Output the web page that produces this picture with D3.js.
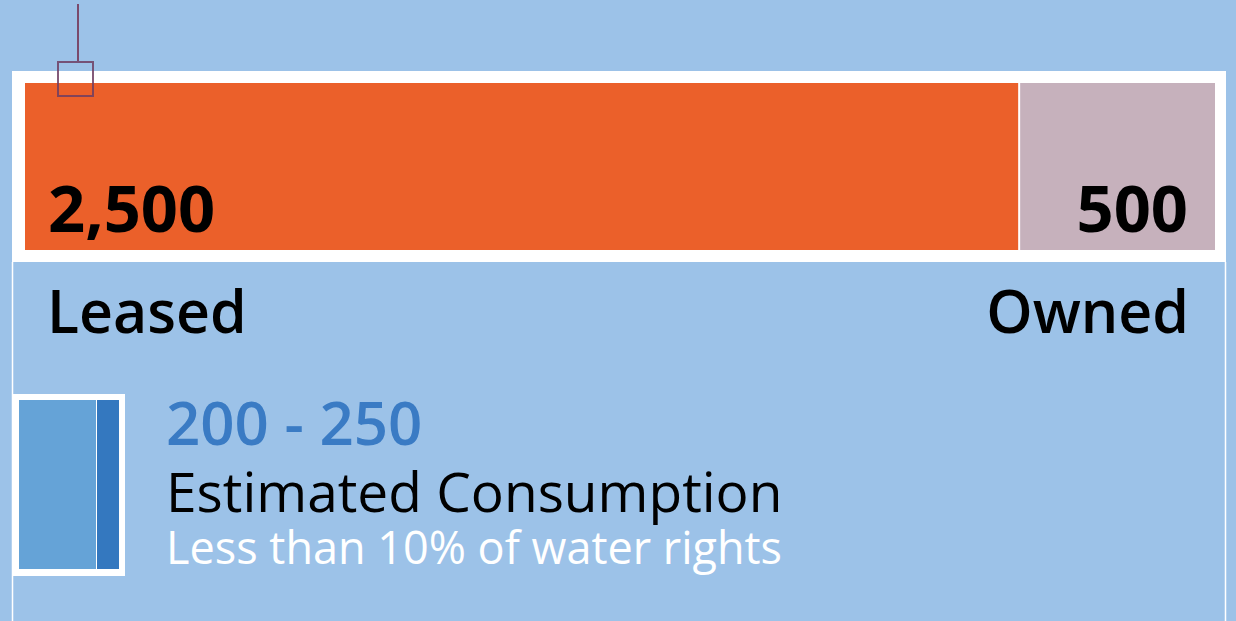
<!DOCTYPE html>
<html>
<head>
<meta charset="utf-8">
<script src="https://cdn.jsdelivr.net/npm/d3@7"></script>
<style>
  html, body { margin: 0; padding: 0; background: #9cc2e8; }
  svg { display: block; font-family: "Open Sans", "Noto Sans", sans-serif; }
</style>
</head>
<body>
<svg id="chart"></svg>
<script>
var categories = ["Leased", "Owned"];
var values = [2500, 500];
var valueLabels = ["2,500", "500"];
var rangeValues = [200, 250];
var rangeLabel = "200 - 250";
var rangeTitle = "Estimated Consumption";
var rangeNote = "Less than 10% of water rights";
var marker = 0; // marker sits at the very start of the bar

var width = 1236, height = 621;
var colors = ["#eb602a", "#c6b1bc"];

var svg = d3.select("#chart")
   .attr("width", width)
   .attr("height", height);

svg.append("rect")
   .attr("width", width).attr("height", height)
   .attr("fill", "#9cc2e8");

// white frame round the bar, with thin side rules going down
svg.append("rect")
   .attr("x", 12).attr("y", 71)
   .attr("width", 1214).attr("height", 191)
   .attr("fill", "#ffffff");
svg.selectAll("line.rule")
   .data([12.5, 1225.5])
   .enter().append("line")
   .attr("class", "rule")
   .attr("x1", d => d).attr("x2", d => d)
   .attr("y1", 262).attr("y2", height)
   .attr("stroke", "#ffffff").attr("stroke-width", 1.5);

var x = d3.scaleLinear()
   .domain([0, d3.sum(values)])
   .range([25, 1218]);

var stack = values.map(function(v, i) {
    var start = d3.sum(values.slice(0, i));
    return {value: v, start: start, end: start + v, i: i};
});

svg.selectAll("rect.seg")
   .data(stack)
   .enter().append("rect")
   .attr("class", "seg")
   .attr("x", d => x(d.start) + (d.i ? 1 : 0))
   .attr("y", 83)
   .attr("width", d => x(d.end) - x(d.start) - (d.i ? 4 : 1))
   .attr("height", 167)
   .attr("fill", (d, i) => colors[i]);

// value labels inside the bar
svg.selectAll("text.val")
   .data(stack)
   .enter().append("text")
   .attr("class", "val")
   .attr("x", d => d.i ? 1188 : 48)
   .attr("y", 232)
   .attr("text-anchor", d => d.i ? "end" : "start")
   .attr("font-size", 65)
   .attr("font-weight", 700)
   .attr("fill", "#000")
   .text((d, i) => valueLabels[i]);

// category labels under the bar
svg.selectAll("text.cat")
   .data(categories)
   .enter().append("text")
   .attr("class", "cat")
   .attr("x", (d, i) => i ? 1189 : 47)
   .attr("y", 333)
   .attr("text-anchor", (d, i) => i ? "end" : "start")
   .attr("font-size", 59)
   .attr("font-weight", 600)
   .attr("fill", "#000")
   .text(d => d);

// marker
var mx = x(marker) + 53;
svg.append("line")
   .attr("x1", mx).attr("x2", mx)
   .attr("y1", 4).attr("y2", 61)
   .attr("stroke", "#7a4a6c").attr("stroke-width", 2);
svg.append("rect")
   .attr("x", mx - 20).attr("y", 62)
   .attr("width", 35).attr("height", 34)
   .attr("fill", "none")
   .attr("stroke", "#6e3e63").attr("stroke-opacity", 0.85)
   .attr("stroke-width", 2);

// legend bar
var lx = d3.scaleLinear()
   .domain([0, rangeValues[1]])
   .range([19, 119]);

svg.append("rect")
   .attr("x", 13).attr("y", 394)
   .attr("width", 112).attr("height", 182)
   .attr("fill", "#ffffff");
svg.append("rect")
   .attr("x", lx(0)).attr("y", 400)
   .attr("width", lx(rangeValues[0]) - lx(0) - 3)
   .attr("height", 169)
   .attr("fill", "#65a3d7");
svg.append("rect")
   .attr("x", lx(rangeValues[0]) - 2).attr("y", 400)
   .attr("width", lx(rangeValues[1]) - lx(rangeValues[0]) + 2)
   .attr("height", 169)
   .attr("fill", "#3478bf");

svg.append("text")
   .attr("x", 166).attr("y", 445)
   .attr("font-size", 60).attr("font-weight", 600)
   .attr("fill", "#3a7bc4")
   .text(rangeLabel);
svg.append("text")
   .attr("x", 166).attr("y", 512)
   .attr("font-size", 55).attr("font-weight", 400)
   .attr("fill", "#000")
   .text(rangeTitle);
svg.append("text")
   .attr("x", 166).attr("y", 564)
   .attr("font-size", 45).attr("font-weight", 400)
   .attr("fill", "#ffffff")
   .text(rangeNote);
</script>
</body>
</html>
